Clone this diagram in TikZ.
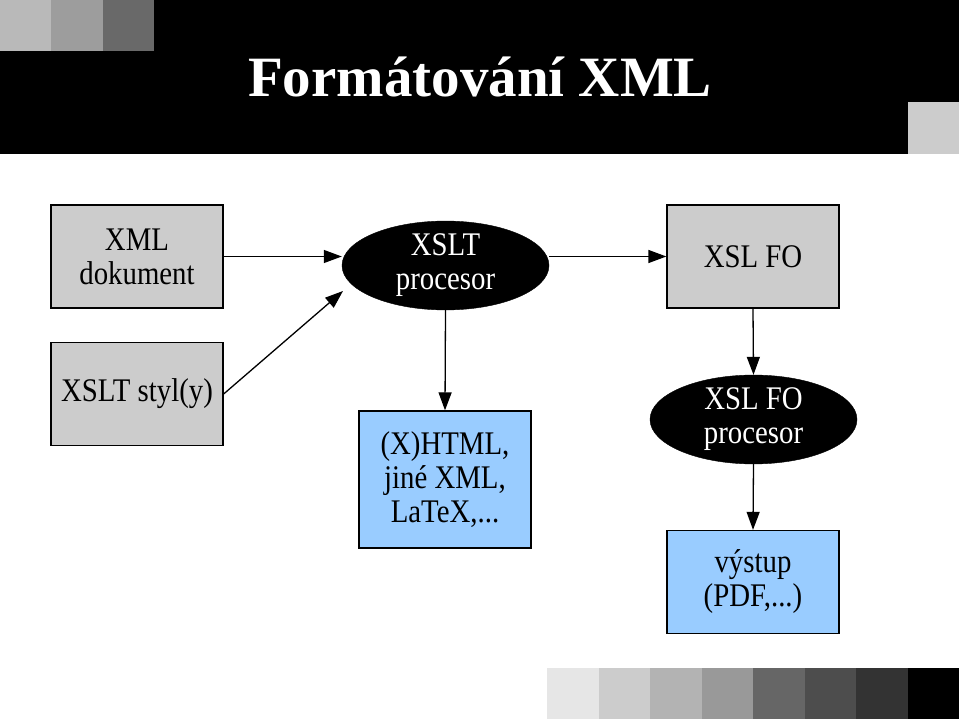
\documentclass[tikz,border=0pt]{standalone}
\usepackage{fontspec}
\setmainfont{Liberation Serif}
\newfontfamily\nodefont[FakeStretch=0.873]{Liberation Serif}
\usetikzlibrary{arrows.meta,shapes.geometric}
\definecolor{boxgray}{HTML}{CCCCCC}
\definecolor{boxblue}{HTML}{99CCFF}
\tikzset{
  graybox/.style={draw=black, line width=1.3pt, fill=boxgray, minimum width=172pt, minimum height=103pt, inner sep=0pt, align=center, font=\nodefont\fontsize{33}{34}\selectfont},
  bluebox/.style={graybox, fill=boxblue},
  proc/.style={ellipse, fill=black, draw=black, text=white, minimum width=207pt, minimum height=86pt, inner sep=0pt, align=center, font=\nodefont\fontsize{33}{34}\selectfont},
  conn/.style={line width=1.3pt, -{Triangle[length=18pt,width=13pt]}}
}
\begin{document}
\begin{tikzpicture}[x=1pt,y=-1pt]
\useasboundingbox (0,0) rectangle (959,719);
\fill[white] (0,0) rectangle (959,719);
% top bar
\fill[black] (0,0) rectangle (959,154);
\fill[fill={rgb,255:red,185;green,185;blue,185}] (0,0) rectangle (51,51);
\fill[fill={rgb,255:red,157;green,157;blue,157}] (51,0) rectangle (103,51);
\fill[fill={rgb,255:red,105;green,105;blue,105}] (103,0) rectangle (154,51);
\fill[boxgray] (908,102) rectangle (959,154);
% bottom squares
\fill[fill={rgb,255:red,230;green,230;blue,230}] (547,668) rectangle (599,719);
\fill[fill={rgb,255:red,204;green,204;blue,204}] (599,668) rectangle (650,719);
\fill[fill={rgb,255:red,179;green,179;blue,179}] (650,668) rectangle (702,719);
\fill[fill={rgb,255:red,153;green,153;blue,153}] (702,668) rectangle (753,719);
\fill[fill={rgb,255:red,102;green,102;blue,102}] (753,668) rectangle (805,719);
\fill[fill={rgb,255:red,77;green,77;blue,77}] (805,668) rectangle (856,719);
\fill[fill={rgb,255:red,51;green,51;blue,51}] (856,668) rectangle (908,719);
\fill[black] (908,668) rectangle (959,719);
% title
\node[text=white, font=\bfseries\fontsize{57}{60}\selectfont, anchor=base] (title) at (480,97) {Formátování XML};
% nodes
\node[graybox] (xml) at (137,256.5) {XML\\dokument};
\node[graybox] (sty) at (137,394) {XSLT styl(y)};
\node[proc] (xp) at (445.5,265.5) {XSLT\\procesor};
\node[bluebox, minimum height=137pt] (html) at (445,479.5) {(X)HTML,\\jiné XML,\\LaTeX,...};
\node[graybox] (fo) at (753,256.5) {XSL FO};
\node[proc, minimum height=87pt] (fop) at (753.5,419.5) {XSL FO\\procesor};
\node[bluebox] (out) at (753,582) {výstup\\(PDF,...)};
% connectors
\coordinate (xpin) at (343,291);
\draw[conn] (xml.east) -- (xml.east -| xp.west);
\draw[conn] (sty.east) -- (xpin);
\draw[conn] (xp.east |- fo.west) -- (fo.west);
\draw[conn] (xp.south) -- (html.north);
\draw[conn] (fo.south) -- (fop.north);
\draw[conn] (fop.south) -- (out.north);
\end{tikzpicture}
\end{document}
